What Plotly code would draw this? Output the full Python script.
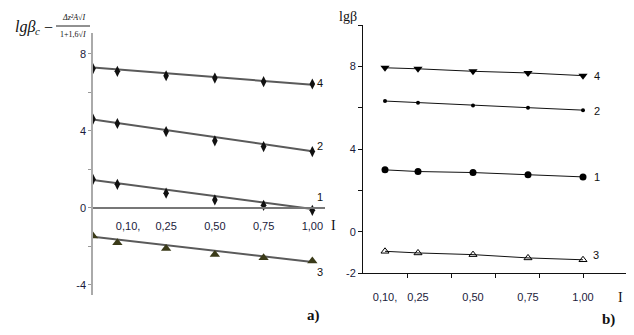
import plotly.graph_objects as go

W, H = 634, 335
OFF = 8  # page body margin offset in the browser

# ---------------- data: panel a) ----------------
pos_a = [0, 0.5, 1.5, 2.5, 3.5, 4.5]          # ordinal x positions (first point = extrapolated)
a_line4 = [7.24, 7.10, 6.87, 6.75, 6.56, 6.44]
a_line2 = [4.62, 4.39, 3.97, 3.49, 3.19, 2.93]
a_line1 = [1.49, 1.23, 0.77, 0.42, 0.14, -0.12]
a_line3 = [-1.46, -1.80, -2.10, -2.41, -2.59, -2.76]
a_fit4 = [7.30, 6.40]
a_fit2 = [4.60, 2.95]
a_fit1 = [1.45, -0.05]
a_fit3 = [-1.50, -2.80]
a_tick_pos = [0.72, 1.5, 2.5, 3.5, 4.5]
a_tick_labels = ["0,10,", "0,25", "0,50", "0,75", "1,00"]

# ---------------- data: panel b) ----------------
I_b = [0.10, 0.25, 0.50, 0.75, 1.00]
b_line4 = [7.93, 7.88, 7.76, 7.68, 7.55]
b_line2 = [6.32, 6.24, 6.11, 6.00, 5.88]
b_line1 = [2.99, 2.91, 2.86, 2.75, 2.65]
b_line3 = [-0.95, -1.03, -1.11, -1.27, -1.36]
b_tick_labels = ["0,10,", "0,25", "0,50", "0,75", "1,00"]

fig = go.Figure()

# ---- panel a lines ----
gray = "#5a5a5a"
for fit in [a_fit4, a_fit2, a_fit1, a_fit3]:
    fig.add_trace(go.Scatter(x=[pos_a[0], pos_a[-1]], y=fit, mode="lines",
                             line=dict(color=gray, width=2), xaxis="x", yaxis="y",
                             showlegend=False, hoverinfo="skip"))
for ys in [a_line4, a_line2, a_line1]:
    fig.add_trace(go.Scatter(x=pos_a, y=ys, mode="markers",
                             marker=dict(symbol="diamond-tall", size=8, color="#111"),
                             xaxis="x", yaxis="y", showlegend=False))
fig.add_trace(go.Scatter(x=pos_a, y=a_line3, mode="markers",
                         marker=dict(symbol="triangle-up", size=9, color="#3a3a18"),
                         xaxis="x", yaxis="y", showlegend=False))

# ---- panel b lines ----
fig.add_trace(go.Scatter(x=I_b, y=b_line4, mode="lines+markers",
                         line=dict(color="#111", width=1),
                         marker=dict(symbol="triangle-down", size=8, color="#000"),
                         xaxis="x2", yaxis="y2", showlegend=False))
fig.add_trace(go.Scatter(x=I_b, y=b_line2, mode="lines+markers",
                         line=dict(color="#111", width=1),
                         marker=dict(symbol="circle", size=4, color="#000"),
                         xaxis="x2", yaxis="y2", showlegend=False))
fig.add_trace(go.Scatter(x=I_b, y=b_line1, mode="lines+markers",
                         line=dict(color="#111", width=1),
                         marker=dict(symbol="circle", size=7, color="#000"),
                         xaxis="x2", yaxis="y2", showlegend=False))
fig.add_trace(go.Scatter(x=I_b, y=b_line3, mode="lines+markers",
                         line=dict(color="#111", width=1),
                         marker=dict(symbol="triangle-up-open", size=7, color="#000",
                                     line=dict(width=1)),
                         xaxis="x2", yaxis="y2", showlegend=False))

# ---- layout geometry (pixel positions of the target, converted to paper) ----
def px(x):
    return (x - OFF) / W

def py(y):
    return 1 - (y - OFF) / H

ax_l, ax_r = px(93), px(325)
ay_b, ay_t = py(295), py(33)
ya_range = [-4.52, 9.09]
x_axis_pos = ay_b + (0 - ya_range[0]) / (ya_range[1] - ya_range[0]) * (ay_t - ay_b)

bx_l, bx_r = px(363), px(627)
by_b, by_t = py(273), py(25)

tickfont = dict(family="Arial, Liberation Sans", size=11, color="#1a1a3a")

fig.update_layout(
    width=W, height=H, margin=dict(l=0, r=0, t=0, b=0),
    paper_bgcolor="white", plot_bgcolor="white",
    xaxis=dict(domain=[ax_l, ax_r], range=[0, 4.76], anchor="free", position=x_axis_pos,
               showgrid=False, zeroline=False, showline=True, linecolor="#777", linewidth=1.5,
               tickvals=a_tick_pos, ticktext=a_tick_labels, ticks="",
               ticklabelstandoff=8, tickfont=tickfont, automargin=False),
    yaxis=dict(domain=[ay_b, ay_t], range=ya_range, anchor="x",
               showgrid=False, zeroline=False, showline=True, linecolor="#aaa", linewidth=1.5,
               tickvals=[-4, 0, 4, 8], ticktext=["-4", "0", "4", "8"],
               ticks="outside", ticklen=3, tickcolor="#999", tickfont=tickfont,
               minor=dict(tickvals=[-2, 2, 6], ticks="outside", ticklen=3, tickcolor="#999"),
               automargin=False),
    xaxis2=dict(domain=[bx_l, bx_r], range=[0, 1.2], anchor="y2",
                showgrid=False, zeroline=False, showline=True, linecolor="#111", linewidth=1,
                tickvals=I_b, ticktext=b_tick_labels, ticks="",
                ticklabelstandoff=14, tickfont=tickfont, automargin=False,
                minor=dict(tickvals=[0.2, 0.4, 0.6, 0.8, 1.0, 1.2], ticks="outside",
                           ticklen=4, tickcolor="#111")),
    yaxis2=dict(domain=[by_b, by_t], range=[-2, 10], anchor="x2",
                showgrid=False, zeroline=False, showline=True, linecolor="#111", linewidth=1,
                tickvals=[-2, 0, 4, 8], ticktext=["-2", "0", "4", "8"],
                ticks="outside", ticklen=4, tickcolor="#111", tickfont=tickfont,
                minor=dict(tickvals=[2, 6, 10], ticks="outside", ticklen=4, tickcolor="#111"),
                automargin=False),
)

def note(text, x, y, size=11, family="Arial, Liberation Sans", color="#111",
         xanchor="center"):
    fig.add_annotation(text=text, x=px(x), y=py(y), xref="paper", yref="paper",
                       showarrow=False, xanchor=xanchor, yanchor="middle",
                       font=dict(size=size, family=family, color=color))

serif = "Liberation Serif, Times New Roman"

# panel a line labels
note("4", 320, 83, 11)
note("2", 320, 146, 11)
note("1", 320, 197, 11)
note("3", 320, 272, 11)
note("I", 333, 225, 14, serif)
note("<b>a)</b>", 313, 315, 15, serif)

# panel a y-title (formula)
note("<i>lgβ</i>", 25, 27, 16, serif)
note("<i>c</i>", 37, 31, 11, serif)
note("−", 48, 27, 16, serif)
note("<i>Δz²A√I</i>", 73, 18, 8, serif)
note("1+1,6√<i>I</i>", 73, 34, 8, serif)
fig.add_shape(type="line", xref="paper", yref="paper",
              x0=px(56), x1=px(90), y0=py(26), y1=py(26),
              line=dict(color="#222", width=1))

# panel b labels
note("4", 597, 76, 11)
note("2", 597, 111, 11)
note("1", 597, 177, 11)
note("3", 596, 255, 11)
note("lgβ", 348, 16, 14, serif)
note("I", 620, 297, 14, serif)
note("<b>b)</b>", 608, 319, 15, serif)

fig.write_html("out.html")
